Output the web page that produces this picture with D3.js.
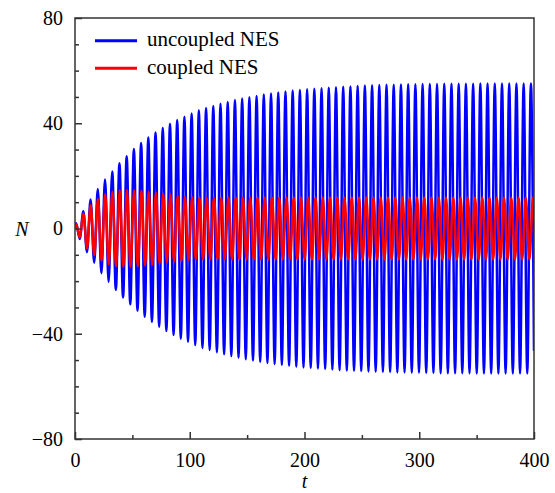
<!DOCTYPE html>
<html>
<head>
<meta charset="utf-8">
<script src="https://cdn.jsdelivr.net/npm/d3@7/dist/d3.min.js"></script>
<style>
  html, body { margin: 0; padding: 0; background: #fff; }
  svg { display: block; }
  text { font-family: "Liberation Serif", "Times New Roman", serif; fill: #000; }
</style>
</head>
<body>
<svg id="chart" width="555" height="493"></svg>
<script>
// ---- data ----
const seriesNames = ["uncoupled NES", "coupled NES"];
const seriesColors = ["#0000ff", "#ff0000"];
const xTicks = [0, 100, 200, 300, 400];
const yTicks = [-80, -40, 0, 40, 80];
const yTickLabels = ["\u221280", "\u221240", "0", "40", "80"];

// oscillation: period of each series and time of the first extremum
const bluePeriod = 6.29;
const redPeriod = 6.32;
const firstExtremumT = 1.0;
const startValue = 0;
const blueEndValue = -46.5;   // value at t = 400
const redEndValue = 8.4;      // value at t = 400

// magnitude of each successive extremum (peak, trough, peak, ...)
const blueAmp = [
  2, 4, 6.6, 9, 11, 13, 15, 17, 18.6, 20.2,
  21.7, 23.3, 24.8, 26.2, 27.5, 28.8, 30.2, 31.2, 32.5, 33.5,
  34.6, 35.5, 36.5, 37.3, 38.2, 39, 39.8, 40.5, 41.2, 41.9,
  42.5, 43.1, 43.7, 44.3, 44.9, 45.4, 45.8, 46.2, 46.6, 47,
  47.4, 47.8, 48.1, 48.5, 48.8, 49.1, 49.4, 49.7, 49.9, 50.2,
  50.4, 50.7, 50.9, 51.1, 51.3, 51.5, 51.7, 51.9, 52.1, 52.2,
  52.4, 52.5, 52.6, 52.8, 52.9, 53, 53.1, 53.2, 53.3, 53.4,
  53.5, 53.6, 53.7, 53.8, 53.9, 54, 54, 54.1, 54.2, 54.2,
  54.3, 54.3, 54.4, 54.4, 54.5, 54.5, 54.6, 54.6, 54.6, 54.7,
  54.7, 54.7, 54.8, 54.8, 54.8, 54.8, 54.9, 54.9, 54.9, 54.9,
  54.9, 55, 55, 55, 55, 55, 55, 55, 55, 55,
  55, 55.1, 55.1, 55.1, 55.1, 55.1, 55.1, 55.1, 55.1, 55.1,
  55.1, 55.1, 55.1, 55.1, 55.1, 55.1, 55.1
];
const redAmp = [
  1.6, 3.4, 5.7, 7.5, 8.8, 10.1, 11.2, 12.2, 13, 13.6,
  14, 14.3, 14.5, 14.6, 14.6, 14.6, 14.5, 14.4, 14.3, 14.1,
  14, 13.8, 13.6, 13.4, 13.2, 13, 12.8, 12.6, 12.4, 12.3,
  12.1, 12, 11.9, 11.8, 11.8, 11.7, 11.7, 11.7, 11.7, 11.7,
  11.7, 11.7, 11.8, 11.8, 11.8, 11.8, 11.8, 11.8, 11.8, 11.8,
  11.8, 11.8, 11.8, 11.8, 11.8, 11.8, 11.8, 11.8, 11.8, 11.8,
  11.8, 11.8, 11.8, 11.8, 11.8, 11.8, 11.8, 11.8, 11.8, 11.8,
  11.8, 11.8, 11.8, 11.8, 11.8, 11.8, 11.8, 11.8, 11.8, 11.8,
  11.8, 11.8, 11.8, 11.8, 11.8, 11.8, 11.8, 11.8, 11.8, 11.8,
  11.8, 11.8, 11.8, 11.8, 11.8, 11.8, 11.8, 11.8, 11.8, 11.8,
  11.8, 11.8, 11.8, 11.8, 11.8, 11.8, 11.8, 11.8, 11.8, 11.8,
  11.8, 11.8, 11.8, 11.8, 11.8, 11.8, 11.8, 11.8, 11.8, 11.8,
  11.8, 11.8, 11.8, 11.8, 11.8, 11.8, 11.8
];

// ---- build point lists (extrema + endpoints) ----
function buildSeries(amp, period, endValue) {
  const pts = [{t: 0, v: startValue}];
  amp.forEach((a, k) => {
    pts.push({t: firstExtremumT + k * period / 2, v: (k % 2 === 0 ? 1 : -1) * a});
  });
  pts.push({t: 400, v: endValue});
  return pts;
}
const blueData = buildSeries(blueAmp, bluePeriod, blueEndValue);
const redData = buildSeries(redAmp, redPeriod, redEndValue);

// ---- layout ----
const svg = d3.select("#chart");
const m = {left: 75, right: 534, top: 18, bottom: 439};
const x = d3.scaleLinear().domain([0, 400]).range([m.left, m.right]);
const y = d3.scaleLinear().domain([-80, 80]).range([m.bottom, m.top]);

svg.append("defs").append("clipPath").attr("id", "clip")
  .append("rect").attr("x", m.left).attr("y", m.top)
  .attr("width", m.right - m.left).attr("height", m.bottom - m.top);

const line = d3.line().x(d => x(d.t)).y(d => y(d.v)).curve(d3.curveMonotoneX);

const plot = svg.append("g").attr("clip-path", "url(#clip)");
plot.append("path").datum(blueData).attr("d", line)
  .attr("fill", "none").attr("stroke", seriesColors[0]).attr("stroke-width", 2.5)
  .attr("stroke-linejoin", "round");
plot.append("path").datum(redData).attr("d", line)
  .attr("fill", "none").attr("stroke", seriesColors[1]).attr("stroke-width", 2.5)
  .attr("stroke-linejoin", "round");

// ---- frame ----
svg.append("rect").attr("x", m.left).attr("y", m.top)
  .attr("width", m.right - m.left).attr("height", m.bottom - m.top)
  .attr("fill", "none").attr("stroke", "#333").attr("stroke-width", 1.5);

// ---- axes (ticks inward) ----
const xAxis = d3.axisBottom(x).tickValues(xTicks).tickSizeInner(-7).tickSizeOuter(0)
  .tickFormat(d3.format("d")).tickPadding(14);
const gx = svg.append("g").attr("transform", `translate(0,${m.bottom})`).call(xAxis);
const xMinor = d3.axisBottom(x).tickValues(d3.range(50, 400, 100)).tickSize(-4).tickFormat("");
const gxm = svg.append("g").attr("transform", `translate(0,${m.bottom})`).call(xMinor);

const yAxis = d3.axisLeft(y).tickValues(yTicks).tickSizeInner(-7).tickSizeOuter(0)
  .tickFormat((d, i) => yTickLabels[i]).tickPadding(12);
const gy = svg.append("g").attr("transform", `translate(${m.left},0)`).call(yAxis);
const yMinor = d3.axisLeft(y).tickValues(d3.range(-70, 80, 10).filter(v => v % 40 !== 0)).tickSize(-4).tickFormat("");
const gym = svg.append("g").attr("transform", `translate(${m.left},0)`).call(yMinor);

[gx, gxm, gy, gym].forEach(g => {
  g.select(".domain").remove();
  g.selectAll(".tick line").attr("stroke", "#333").attr("stroke-width", 1.5);
  g.selectAll(".tick text").style("font-family", "'Liberation Serif', serif")
    .style("font-size", "20px").attr("fill", "#000");
});
gx.selectAll(".tick text").attr("dy", "0.71em");

// ---- axis titles ----
svg.append("text").attr("x", x(200)).attr("y", 488).attr("text-anchor", "middle")
  .style("font-size", "20px").style("font-style", "italic").text("t");
svg.append("text").attr("x", 22).attr("y", y(0) + 7).attr("text-anchor", "middle")
  .style("font-size", "20px").style("font-style", "italic").text("N");

// ---- legend ----
const legend = svg.append("g");
seriesNames.forEach((name, i) => {
  const ly = 40.7 + i * 27.6;
  legend.append("line").attr("x1", 95).attr("x2", 137).attr("y1", ly).attr("y2", ly)
    .attr("stroke", seriesColors[i]).attr("stroke-width", 3);
  legend.append("text").attr("x", 147).attr("y", ly + 5.5)
    .style("font-size", "21px").text(name);
});
</script>
</body>
</html>
